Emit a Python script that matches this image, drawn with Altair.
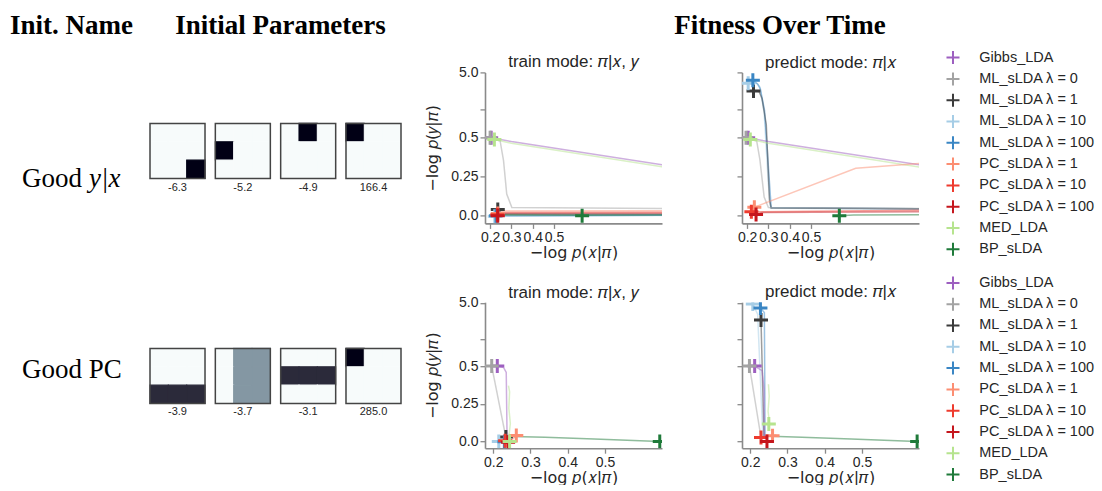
import math
import altair as alt
import pandas as pd

# ---------------- data ----------------
SERIES = ["Gibbs_LDA", "ML_sLDA λ = 0", "ML_sLDA λ = 1", "ML_sLDA λ = 10", "ML_sLDA λ = 100",
          "PC_sLDA λ = 1", "PC_sLDA λ = 10", "PC_sLDA λ = 100", "MED_LDA", "BP_sLDA"]
COLORS = ["#9d5fc0", "#a3a3a3", "#3b3b3b", "#a6cde6", "#3a86c4",
          "#fc8e72", "#ee3b2e", "#c5161d", "#b6e48e", "#1f7a3a"]

HEADERS = ["Init. Name", "Initial Parameters", "Fitness Over Time"]

THUMBS_R1 = [
    [[0, 0, 0], [0, 0, 0], [0, 0, 1]],
    [[0, 0, 0], [1, 0, 0], [0, 0, 0]],
    [[0, 1, 0], [0, 0, 0], [0, 0, 0]],
    [[1, 0, 0], [0, 0, 0], [0, 0, 0]],
]
NUMS_R1 = [-6.3, -5.2, -4.9, 166.4]
THUMBS_R2 = [
    [[0, 0, 0], [0, 0, 0], [0.82, 0.82, 0.82]],
    [[0, 0.47, 0.47], [0, 0.47, 0.47], [0, 0.47, 0.47]],
    [[0, 0, 0], [0.82, 0.82, 0.82], [0, 0, 0]],
    [[1, 0, 0], [0, 0, 0], [0, 0, 0]],
]
NUMS_R2 = [-3.9, -3.7, -3.1, 285.0]

XTICKS = [0.2, 0.3, 0.4, 0.5]
YTICK_VALUES = [0.0, 0.25, 0.5, 1.34, 5.0]
YTICK_LABELS = ["0.0", "0.25", "0.5", "", "5.0"]

# row 1, train mode
M_R1_TRAIN = {
    "Gibbs_LDA": (0.205, 0.50), "ML_sLDA λ = 0": (0.200, 0.50), "ML_sLDA λ = 1": (0.236, 0.04),
    "ML_sLDA λ = 10": (0.222, -0.003), "ML_sLDA λ = 100": (0.228, 0.0), "PC_sLDA λ = 1": (0.236, 0.015),
    "PC_sLDA λ = 10": (0.234, 0.006), "PC_sLDA λ = 100": (0.236, 0.0), "MED_LDA": (0.220, 0.49),
    "BP_sLDA": (0.632, 0.0),
}
L_R1_TRAIN = {
    "Gibbs_LDA": [(0.205, 0.50), (0.30, 0.476), (1.02, 0.325)],
    "MED_LDA": [(0.22, 0.49), (0.30, 0.465), (1.02, 0.312)],
    "ML_sLDA λ = 0": [(0.20, 0.50), (0.247, 0.48), (0.263, 0.354), (0.278, 0.139), (0.302, 0.053), (1.02, 0.047)],
    "PC_sLDA λ = 1": [(0.236, 0.015), (0.26, 0.03), (1.02, 0.032)],
    "PC_sLDA λ = 10": [(0.234, 0.006), (0.26, 0.02), (1.02, 0.022)],
    "PC_sLDA λ = 100": [(0.236, 0.0), (0.26, 0.014), (1.02, 0.015)],
    "ML_sLDA λ = 1": [(0.236, 0.04), (0.26, 0.01), (1.02, 0.008)],
    "ML_sLDA λ = 10": [(0.222, -0.003), (1.02, 0.002)],
    "ML_sLDA λ = 100": [(0.228, 0.0), (1.02, 0.004)],
    "BP_sLDA": [(0.21, 0.006), (0.632, 0.003), (1.02, 0.004)],
}
# row 1, predict mode
M_R1_PRED = {
    "Gibbs_LDA": (0.205, 0.50), "ML_sLDA λ = 0": (0.195, 0.50), "ML_sLDA λ = 1": (0.230, 2.59),
    "ML_sLDA λ = 10": (0.205, 3.4), "ML_sLDA λ = 100": (0.227, 3.8), "PC_sLDA λ = 1": (0.234, 0.055),
    "PC_sLDA λ = 10": (0.220, 0.025), "PC_sLDA λ = 100": (0.242, 0.008), "MED_LDA": (0.215, 0.49),
    "BP_sLDA": (0.633, 0.0),
}
L_R1_PRED = {
    "ML_sLDA λ = 10": [(0.195, 3.4), (0.245, 3.4), (0.26, 3.0), (0.28, 1.2), (0.30, 0.2), (0.31, 0.05), (1.02, 0.04)],
    "ML_sLDA λ = 100": [(0.227, 3.8), (0.25, 3.3), (0.262, 2.8), (0.282, 1.3), (0.298, 0.354), (0.313, 0.053), (1.02, 0.045)],
    "ML_sLDA λ = 1": [(0.23, 2.59), (0.255, 2.6), (0.27, 2.0), (0.29, 0.8), (0.305, 0.1), (0.313, 0.05), (1.02, 0.045)],
    "ML_sLDA λ = 0": [(0.195, 0.5), (0.245, 0.48), (0.26, 0.36), (0.28, 0.12), (0.30, 0.053), (1.02, 0.047)],
    "Gibbs_LDA": [(0.205, 0.5), (0.30, 0.476), (1.02, 0.325)],
    "MED_LDA": [(0.215, 0.49), (0.30, 0.465), (1.02, 0.31)],
    "PC_sLDA λ = 1": [(0.234, 0.055), (0.71, 0.305), (1.02, 0.336)],
    "PC_sLDA λ = 10": [(0.22, 0.025), (0.26, 0.025), (1.02, 0.035)],
    "PC_sLDA λ = 100": [(0.242, 0.008), (0.27, 0.02), (1.02, 0.025)],
    "BP_sLDA": [(0.633, 0.0), (0.70, 0.005), (1.02, 0.006)],
}
# row 2, train mode
M_R2_TRAIN = {
    "Gibbs_LDA": (0.211, 0.50), "ML_sLDA λ = 0": (0.196, 0.50), "ML_sLDA λ = 1": (0.234, 0.03),
    "ML_sLDA λ = 10": (0.215, 0.0), "ML_sLDA λ = 100": (0.23, -0.003), "PC_sLDA λ = 1": (0.262, 0.04),
    "PC_sLDA λ = 10": (0.232, 0.005), "PC_sLDA λ = 100": (0.24, -0.005), "MED_LDA": (0.244, 0.0),
    "BP_sLDA": (0.647, 0.0),
}
L_R2_TRAIN = {
    "Gibbs_LDA": [(0.211, 0.5), (0.228, 0.49), (0.235, 0.458), (0.237, 0.071), (0.24, 0.027)],
    "ML_sLDA λ = 0": [(0.196, 0.5), (0.234, 0.027)],
    "MED_LDA": [(0.241, 0.37), (0.244, 0.33), (0.242, 0.22), (0.246, 0.12), (0.243, 0.05), (0.245, 0.0)],
    "PC_sLDA λ = 1": [(0.25, 0.01), (0.262, 0.04), (0.27, 0.045)],
    "ML_sLDA λ = 1": [(0.234, 0.03), (0.236, 0.0)],
    "BP_sLDA": [(0.25, 0.033), (0.339, 0.027), (0.471, 0.016), (0.647, 0.0)],
}
# row 2, predict mode
M_R2_PRED = {
    "Gibbs_LDA": (0.212, 0.50), "ML_sLDA λ = 0": (0.198, 0.50), "ML_sLDA λ = 1": (0.229, 2.67),
    "ML_sLDA λ = 10": (0.207, 4.78), "ML_sLDA λ = 100": (0.2275, 4.13), "PC_sLDA λ = 1": (0.26, 0.038),
    "PC_sLDA λ = 10": (0.229, 0.026), "PC_sLDA λ = 100": (0.245, 0.0), "MED_LDA": (0.25, 0.115),
    "BP_sLDA": (0.648, 0.0),
}
L_R2_PRED = {
    "ML_sLDA λ = 10": [(0.207, 4.78), (0.22, 3.3), (0.234, 0.03)],
    "ML_sLDA λ = 100": [(0.2275, 4.13), (0.238, 3.5), (0.24, 0.03)],
    "ML_sLDA λ = 1": [(0.229, 2.67), (0.237, 0.03)],
    "ML_sLDA λ = 0": [(0.198, 0.5), (0.229, 0.026)],
    "Gibbs_LDA": [(0.212, 0.5), (0.232, 0.47), (0.237, 0.35), (0.238, 0.03)],
    "MED_LDA": [(0.249, 0.38), (0.251, 0.3), (0.248, 0.2), (0.252, 0.115)],
    "PC_sLDA λ = 1": [(0.255, 0.03), (0.26, 0.038), (0.27, 0.045)],
    "BP_sLDA": [(0.255, 0.035), (0.339, 0.028), (0.471, 0.016), (0.648, 0.0)],
}

# ---------------- layout / style constants ----------------
LIN = 0.5      # linear threshold of the y axis
A = 1.19       # size of linear part relative to one decade
PLUS = "M-1,0L1,0M0,-1L0,1"
TEXPR = f"datum.y <= {LIN} ? datum.y / {LIN} * {A} : {A} + log(datum.y / {LIN}) / LN10"
HEADER_X = [71.5, 280.5, 780]
CSCALE = alt.Scale(domain=[0, 0.47, 0.82, 1], range=["#f7fbfb", "#8497a3", "#2b2a3a", "#000000"])


def sscale():
    return alt.Scale(domain=SERIES, range=COLORS)


def tpos(v):
    return v / LIN * A if v <= LIN else A + math.log10(v / LIN)


def ylabel_expr():
    s = ""
    for v, lab in zip(YTICK_VALUES, YTICK_LABELS):
        s += f"abs(datum.value - {tpos(v):.6f}) < 0.01 ? '{lab}' : "
    return s + "''"


def panel(markers, lines, title, xdom, ydom, height, first, legend_y, title_offset):
    lrows = []
    for s, pts in lines.items():
        for i, (x, y) in enumerate(pts):
            lrows.append({"grp": s, "i": i, "x": x, "y": y})
    mrows = [{"series": s, "x": markers[s][0], "y": markers[s][1]} for s in SERIES if s in markers]
    xenc = alt.X("x:Q", scale=alt.Scale(domain=xdom, nice=False, zero=False),
                 axis=alt.Axis(values=XTICKS, format=".1f", title="−log 𝑝(𝑥|𝜋)",
                               labelOverlap=False, labelFlush=False, titlePadding=0))
    yenc = alt.Y("t:Q", scale=alt.Scale(domain=ydom, nice=False, zero=False),
                 axis=alt.Axis(values=[tpos(v) for v in YTICK_VALUES], labelExpr=ylabel_expr(),
                               labels=first, title=("−log 𝑝(𝑦|𝜋)" if first else None),
                               labelOverlap=False, labelFlush=False, titlePadding=10))
    lay_l = alt.Chart(pd.DataFrame(lrows)).transform_calculate(t=TEXPR).mark_line(
        clip=True, strokeWidth=1.5, strokeOpacity=0.5).encode(
        x=xenc, y=yenc,
        stroke=alt.Stroke("grp:N", scale=sscale(), legend=None),
        detail="grp:N", order="i:Q")
    if first:
        leg = None
    else:
        leg = alt.Legend(title=None, orient="none", legendX=203.5, legendY=legend_y, direction="vertical",
                         symbolType=PLUS, symbolSize=169, symbolStrokeWidth=2, symbolOpacity=1,
                         labelFont="Liberation Sans", labelFontSize=14.5, labelColor="#262626",
                         labelOffset=18.8, rowPadding=0.3, padding=0)
    lay_p = alt.Chart(pd.DataFrame(mrows)).transform_calculate(t=TEXPR).mark_point(
        shape=PLUS, filled=False, strokeWidth=3, size=196, opacity=1, clip=True).encode(
        x=xenc, y=yenc, color=alt.Color("series:N", scale=sscale(), legend=leg))
    return alt.layer(lay_l, lay_p).resolve_scale(color="independent", stroke="independent").properties(
        width=177, height=height, title=alt.Title(title, anchor="middle", offset=title_offset))


def left_chart(thumbs, nums, height, top, label_parts, label_base, num_y, with_header):
    cells = []
    for k, g in enumerate(thumbs):
        for r in range(3):
            for c in range(3):
                cells.append({"thumb": k, "row": r, "col": c, "v": g[r][c]})
    tdf = pd.DataFrame({"thumb": list(range(len(nums))), "num": nums})
    xs = alt.X("thumb:O", scale=alt.Scale(range=[150, 401], paddingInner=0.158, paddingOuter=0), axis=None)
    layers = [
        alt.Chart(pd.DataFrame(cells)).mark_rect(strokeWidth=1.1).encode(
            x=xs, xOffset=alt.XOffset("col:O"),
            y=alt.Y("row:O", scale=alt.Scale(range=[top, top + 55], paddingInner=0, paddingOuter=0), axis=None),
            color=alt.Color("v:Q", scale=CSCALE, legend=None),
            stroke=alt.Stroke("v:Q", scale=CSCALE, legend=None)),
        alt.Chart(tdf).mark_rect(fillOpacity=0, stroke="#444444", strokeWidth=1.5).encode(
            x=xs, y=alt.value(top), y2=alt.value(top + 55)),
        alt.Chart(tdf).transform_calculate(lab="replace(format(datum.num, '.1f'), '−', '-')").mark_text(
            font="Liberation Sans", fontSize=11, color="#262626", baseline="middle").encode(
            x=xs, y=alt.value(num_y), text="lab:N"),
        alt.Chart(pd.DataFrame({"t": [label_parts[0]]})).mark_text(
            font="Liberation Serif", fontSize=27, align="left", baseline="alphabetic", color="black").encode(
            x=alt.value(22), y=alt.value(label_base), text="t:N"),
    ]
    if label_parts[1]:
        layers.append(alt.Chart(pd.DataFrame({"t": [label_parts[1]]})).mark_text(
            font="Liberation Serif", fontSize=27, fontStyle="italic", align="left", baseline="alphabetic",
            color="black").encode(x=alt.value(89), y=alt.value(label_base), text="t:N"))
    if with_header:
        for hx, h in zip(HEADER_X, HEADERS):
            layers.append(alt.Chart(pd.DataFrame({"t": [h]})).mark_text(
                font="Liberation Serif", fontSize=27, fontWeight="bold", align="center",
                baseline="alphabetic", color="black").encode(x=alt.value(hx), y=alt.value(-38.7), text="t:N"))
    return alt.layer(*layers).properties(width=404.7, height=height)


H1, H2 = 151, 146
XD1, XD2 = [0.176, 1.007], [0.178, 0.653]
YD1, YD2 = [-0.117, 2.19], [-0.107, 2.2]
LEG1_Y, LEG2_Y = -22.3, -26.8

L1 = left_chart(THUMBS_R1, NUMS_R1, H1, 51, ("Good", "y|x"), 114.3, 115.8, True)
L2 = left_chart(THUMBS_R2, NUMS_R2, H2, 46.2, ("Good PC", ""), 75.5, 110.2, False)
P1a = panel(M_R1_TRAIN, L_R1_TRAIN, "train mode: 𝜋|𝑥, 𝑦", XD1, YD1, H1, True, 0, -6)
P1b = panel(M_R1_PRED, L_R1_PRED, "predict mode: 𝜋|𝑥", XD1, YD1, H1, False, LEG1_Y, LEG1_Y + 0.8)
P2a = panel(M_R2_TRAIN, L_R2_TRAIN, "train mode: 𝜋|𝑥, 𝑦", XD2, YD2, H2, True, 0, -6)
P2b = panel(M_R2_PRED, L_R2_PRED, "predict mode: 𝜋|𝑥", XD2, YD2, H2, False, LEG2_Y, LEG2_Y + 0.8)

chart = alt.concat(L1, P1a, P1b, L2, P2a, P2b, columns=3,
                   spacing={"row": 78.8, "column": 80}, bounds="flush", align="each").resolve_scale(
    color="independent", stroke="independent", x="independent", y="independent"
).resolve_legend(color="independent", stroke="independent").properties(
    padding={"left": 0, "top": 11.4, "right": 0, "bottom": 0}
).configure_view(stroke=None).configure_axis(
    grid=False, domainColor="#8a8a8a", domainWidth=1.6, tickColor="#8a8a8a", tickWidth=1.3, tickSize=5,
    labelFont="Liberation Sans", labelFontSize=14, labelColor="#262626", labelPadding=2,
    titleFont="DejaVu Sans", titleFontSize=16, titleFontWeight="normal", titleColor="#262626"
).configure_title(
    font="Liberation Sans", fontSize=17, fontWeight="normal", color="#262626"
)

chart.save("out.html", embed_options={"renderer": "svg", "actions": False})
